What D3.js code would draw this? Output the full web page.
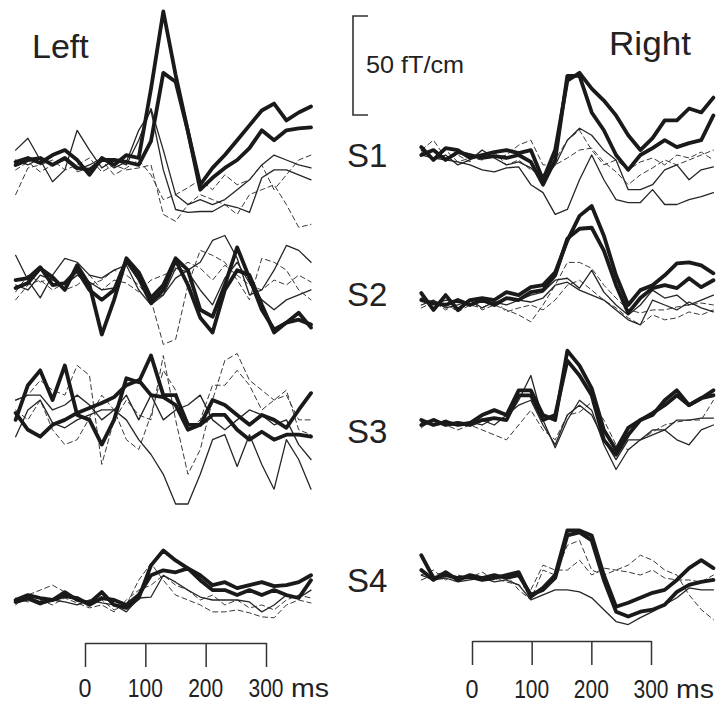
<!DOCTYPE html>
<html>
<head>
<meta charset="utf-8">
<script src="https://cdn.jsdelivr.net/npm/d3@7"></script>
<style>
  body { margin: 0; background: #fff; }
  svg text { font-family: "Liberation Sans", Arial, Helvetica, sans-serif; fill: #222; }
</style>
</head>
<body>
<div id="chart"></div>
<script>
"use strict";

// sample grid (ms) for each column, ~20 ms step
const timesLeft  = d3.range(25).map(i => -115 + i * 20.4);
const timesRight = d3.range(25).map(i => -85 + i * 20.4);

const tickTimes = [0, 100, 200, 300];
const rowNames = ["S1", "S2", "S3", "S4"];

// amplitudes in fT/cm

// Left S1
const L1_thick1 = [-1,1,-1.5,2.5,5,0,-7.5,1,-2.5,2.5,1,36,75,43,14.5,-12.5,-4,2.5,10,17.5,25,28.5,20,24,27];
const L1_thick2 = [-2.5,0,1,-2.5,1,-4,-5,0,0,-1,-2.5,9.5,44,39.5,14.5,-15,-9,-4,0,6,15,10,15,16,16.5];
const L1_thin1  = [5,11,0,-11,-5,15,5,-4,0,-2.5,10,26,5,-17.5,-22.5,-20,-22.5,-20,-15,-10,-2.5,2.5,0,-2.5,-4];
const L1_thin2  = [0,-2.5,1,-2.5,0,-5,-2.5,1,-4,-1,15,25,-5,-25,-26.5,-26,-26,-22.5,-24,-26.5,-9,-5,-5,-7.5,-10];
const L1_dash1  = [-17.5,-4,-2.5,0,-5,-2.5,1,-6,-2.5,-5,-4,-2.5,-27.5,-31,-22.5,-17.5,-20,-22.5,-27.5,-17.5,-15,-12.5,-22.5,-34,-32.5];
const L1_dash2  = [-5,-1,-6,-2.5,1,-6,-4,0,-7.5,-4,0,-7.5,-20,-17.5,-14,-10,-15,-7.5,-12.5,-10,-2.5,-15,-7.5,0,2.5];

// Left S2
const L2_thick1 = [-0.5,2,9.5,5,-1.5,11,1,-24,-6.5,14.5,7.5,-5.5,1,14.5,8.5,-11.5,-15,1,20,4.5,-11.5,-21.5,-18,-13,-20.5];
const L2_thick2 = [3.5,4.5,10,1,2,8.5,-1.5,-6.5,-1.5,13.5,4.5,-8,-1.5,13.5,1,-15.5,-23,-1.5,8.5,6,-9,-23,-18,-16.5,-19];
const L2_thin1  = [16,3.5,-5.5,6,14.5,12.5,6,4.5,8.5,11,-1.5,-9,-4,4.5,8.5,12.5,23.5,26,14.5,-4,-1.5,8.5,21,18.5,12.5];
const L2_thin2  = [1,-1.5,6,3.5,1,6,2.5,-1.5,-0.5,12.5,3.5,-6.5,-4,9.5,7.5,-1.5,-9,4.5,12.5,2,-6.5,-11.5,-6.5,-4,-1.5];
const L2_dash1  = [-6.5,1,3.5,-1.5,2,6,1,3.5,8.5,6,1,-6.5,-29,-26.5,1,18.5,16,12.5,3.5,-6.5,14.5,12.5,8.5,-1.5,-6.5];
const L2_dash2  = [-2.5,6,2.5,4.5,-1.5,1,6,-1.5,3.5,2,-2.5,3.5,6,8.5,12.5,9.5,3.5,11,6,1,-1.5,3.5,1,6,2.5];

// Left S3
const L3_thick1 = [-6.5,11,18.5,3.5,21,-4,-6.5,-19,-6.5,14.5,12.5,26,6,6,-9,-9,3.5,1,-4,-9,-4,-6.5,-10.5,-1.5,7];
const L3_thick2 = [-3,-11.5,-15,-9,-6.5,-3,-0.5,2,5,11,13.5,6,5,1,-11.5,-9,-4,-4,-11.5,-16.5,-12.5,-16.5,-14,-14,-15];
const L3_thin1  = [-15,-1.5,3.5,-8,-10.5,-6.5,-4,-1.5,-1.5,-6.5,-16.5,-24,-34,-49,-49,-34,-16.5,-14,-30,-14,-29,-41.5,-16.5,-26.5,-41.5];
const L3_thin2  = [3.5,6,6,-1.5,1,6,1,-6.5,-1.5,6,-6.5,6,-6.5,-1.5,1,6,-6.5,-11.5,-6.5,-1.5,-4,-9,-6.5,-19,-26.5];
const L3_dash1  = [3.5,6,13.5,8.5,6,21,16,-29,-6.5,3.5,-4,-6.5,26,-6.5,-34,-21.5,3.5,23.5,27,13.5,8.5,3.5,6,-6.5,-6.5];
const L3_dash2  = [-1.5,-6.5,3.5,-11.5,-19,-16.5,-5.5,6,-1.5,-16.5,-21.5,-4,18.5,8.5,-11.5,-6.5,11,11,18.5,11,-1.5,3.5,8.5,-11.5,-14];

// Left S4
const L4_thick1 = [0,2.5,1,0,4,0,-1.5,4,-2.5,-4,1,17.5,25,20,16,12.5,7.5,9,6,7.5,9,7,7.5,9,12.5];
const L4_thick2 = [-1,1,-1.5,0,2,1,-2.5,1,0,-2.5,2.5,12.5,15,14,16,10,5,5,2.5,5,2.5,5,2.5,1,10];
const L4_thin1  = [-1.5,0,-2.5,0,-1,-2.5,0,-1.5,-2.5,-6,1,1.5,12.5,9,5,1.5,0,0,0,-1,-6,-2.5,2.5,1,5];
const L4_dash1  = [-2.5,2.5,5,7.5,4,0,-1.5,0,-5,-2.5,10,18.5,10,2.5,0,-2.5,-6,-6,-5,-6.5,-8.5,-9,-2.5,0,-1.5];
const L4_dash2  = [1,-1,0,-2.5,1,-1.5,-4,-2.5,-6,0,5,7.5,12.5,7.5,5,0,2.5,-2.5,0,-4,-2.5,-5,0,2.5,1];

// Right S1
const R1_thick1 = [5,-1.5,4.5,3.5,-0.5,1,2.5,3.5,2,3.5,-11.5,3.5,38.5,42.5,34.5,28.5,21,11,3.5,9.5,18.5,18.5,24.5,22.5,30];
const R1_thick2 = [1,3.5,-1.5,2.5,1,-0.5,0.5,-0.5,1,-2.5,-14,-1.5,41,41,22.5,13.5,1,-6.5,1,4.5,8.5,5,7,8.5,21];
const R1_thin1  = [3.5,-1.5,1,-4,-1.5,3.5,-0.5,-4,-2.5,-5.5,-11.5,-4,8.5,14.5,11,3.5,-1.5,-16.5,-16.5,-14,-6.5,-4,-11.5,-6.5,-5];
const R1_thin2  = [1,-0.5,-1.5,-2.5,-4,-6.5,-7.5,-5.5,-5,-14,-18,-29,-26.5,-11.5,1,-11.5,-21.5,-23,-23,-16.5,-24,-24,-21.5,-20,-18];
const R1_dash1  = [3.5,8.5,-0.5,1,-2.5,3.5,-0.5,1,6,8.5,-4,-4,-0.5,3.5,4.5,-2.5,-7.5,-14,-9,-5.5,-1.5,-4,-1.5,1,3.5];
const R1_dash2  = [2.5,-1.5,3.5,-2.5,-0.5,-1.5,2.5,-4,-1.5,-6.5,-9,-1.5,8.5,13.5,3.5,-4,-1.5,-6.5,-2.5,-0.5,-4,1,-0.5,2.5,-1.5];

// Right S2
const R2_thick1 = [5,-3.5,4,-3.5,1.5,2.5,1.5,5.5,4,8,9,15.5,31.5,44,49,34,14,-1,6.5,9,14,20,20.5,19,15];
const R2_thick2 = [1.5,0,-1,1.5,-1,1.5,-1,2.5,1.5,5.5,6.5,14,32.5,37.5,38,26.5,9,-5,2.5,7.5,9,7.5,12.5,8,11.5];
const R2_thin1  = [2.5,-1,1.5,0.5,-1,1.5,0,2.5,1.5,4,5.5,11.5,12.5,7.5,16.5,5.5,-1,-6,-1,6.5,2.5,4,-1,1.5,4];
const R2_thin2  = [-1,1.5,-2.5,-1,1.5,-2.5,0.5,-1,1.5,0.5,2.5,9,10.5,6.5,4,1.5,-3.5,-8.5,-11,1.5,-1,-3.5,0.5,-2.5,-4.5];
const R2_dash1  = [-2.5,0.5,-3.5,0,1.5,-3.5,-1,-3.5,-6,-9.5,-1,9,20.5,20.5,17.5,9,2.5,-3.5,-5,-3.5,-3.5,-2,-1,0,-1];
const R2_dash2  = [1.5,-2.5,0,-4.5,-1,-2.5,1.5,-4.5,-2.5,-1,-3.5,1.5,9,11.5,6.5,1.5,-2.5,-7.5,-11,-6,-8.5,-7.5,-4.5,-6,-3.5];

// Right S3
const R3_thick1 = [1.5,-1,0.5,-1,0,4,6.5,4,16.5,16.5,4,1.5,36.5,29,17.5,-3.5,-13.5,-2.5,1.5,4,11.5,16.5,9,12.5,16.5];
const R3_thick2 = [-1,1.5,-1,0,-1,1.5,2.5,1.5,14,14,1.5,4,31.5,24,14,-8.5,-16,-6,1.5,5,9,14,9,12.5,14];
const R3_thin1  = [1.5,-1,1.5,-1,0.5,-1,2.5,1.5,11.5,24,1.5,-12.5,1.5,11.5,6.5,-11,-23.5,-13.5,-8.5,-3.5,-3.5,1.5,1.5,2.5,2.5];
const R3_thin2  = [0,1.5,-1,0.5,-1,1.5,-1,4,9,11.5,-1,-11,4,9,4,-8.5,-18.5,-8.5,-8.5,-6,-3.5,-8.5,-11,-3.5,-1];
const R3_dash1  = [-2.5,2.5,-1,-3.5,-1,-3.5,-6,-8.5,-1,6.5,-3.5,-8.5,4,5.5,10.5,1.5,-11,-13.5,-8.5,-4.5,-1,0.5,1.5,1.5,11.5];

// Right S4
const R4_thick1 = [11.5,0,1.5,0,0.5,-1,0,1.5,3,-9.5,-5,1.5,24,24,21.5,1.5,-14.5,-12.5,-10,-7.5,-6,-1,5,9,5];
const R4_thick2 = [4,-1,3,-1,1.5,0,1.5,0,1.5,-8.5,-6,0,21.5,23,19,-1,-17,-19.5,-17,-16,-13.5,-7,-3.5,-2,-1];
const R4_thin1  = [1.5,-1,0,-2,-1,0,-2,-1,-3.5,-11,-8.5,-6,-6,-7,-10,-16,-22,-23.5,-20,-17,-13.5,-10,-5,-6,-6];
const R4_dash1  = [1.5,4,-1,1.5,0,3,-1,1.5,-6,-11,4,1.5,16.5,19,4,1.5,4,6.5,11.5,9,4,1.5,-8.5,-16,-21];
const R4_dash2  = [-1,1.5,3,-2,1,-1,0,-2,-3.5,-6,6.5,4,4,9,1.5,5,4,3,1.5,4,0,-1,-1,-2,1.5];


// layout

const width = 722;
const height = 703;
const pxPerUnit = 1.98;          // 50 fT/cm = 99 px

const xLeft  = d3.scaleLinear().domain([0, 300]).range([85, 266]);
const xRight = d3.scaleLinear().domain([0, 300]).range([472, 651]);

const panels = [
    {x: xLeft,  t: timesLeft,  base: 160, traces: [[L1_dash1,"dash"],[L1_dash2,"dash"],[L1_thin1,"thin"],[L1_thin2,"thin"],[L1_thick1,"thick"],[L1_thick2,"thick"]]},
    {x: xLeft,  t: timesLeft,  base: 287, traces: [[L2_dash1,"dash"],[L2_dash2,"dash"],[L2_thin1,"thin"],[L2_thin2,"thin"],[L2_thick1,"thick"],[L2_thick2,"thick"]]},
    {x: xLeft,  t: timesLeft,  base: 407, traces: [[L3_dash1,"dash"],[L3_dash2,"dash"],[L3_thin1,"thin"],[L3_thin2,"thin"],[L3_thick1,"thick"],[L3_thick2,"thick"]]},
    {x: xLeft,  t: timesLeft,  base: 600, traces: [[L4_dash1,"dash"],[L4_dash2,"dash"],[L4_thin1,"thin"],[L4_thick1,"thick"],[L4_thick2,"thick"]]},
    {x: xRight, t: timesRight, base: 157, traces: [[R1_dash1,"dash"],[R1_dash2,"dash"],[R1_thin1,"thin"],[R1_thin2,"thin"],[R1_thick1,"thick"],[R1_thick2,"thick"]]},
    {x: xRight, t: timesRight, base: 303, traces: [[R2_dash1,"dash"],[R2_dash2,"dash"],[R2_thin1,"thin"],[R2_thin2,"thin"],[R2_thick1,"thick"],[R2_thick2,"thick"]]},
    {x: xRight, t: timesRight, base: 423, traces: [[R3_dash1,"dash"],[R3_thin1,"thin"],[R3_thin2,"thin"],[R3_thick1,"thick"],[R3_thick2,"thick"]]},
    {x: xRight, t: timesRight, base: 578, traces: [[R4_dash1,"dash"],[R4_dash2,"dash"],[R4_thin1,"thin"],[R4_thick1,"thick"],[R4_thick2,"thick"]]}
];

const styles = {
    thick: {w: 3.8, c: "#1a1a1a", dash: null},
    thin:  {w: 1.3, c: "#262626", dash: null},
    dash:  {w: 1.0, c: "#3a3a3a", dash: "5,3.5"}
};

const svg = d3.select("#chart").append("svg")
    .attr("width", width)
    .attr("height", height);

// traces
panels.forEach(p => {
    const y = d3.scaleLinear().domain([0, 50]).range([p.base, p.base - 50 * pxPerUnit]);
    const line = d3.line()
        .x((d, i) => p.x(p.t[i]))
        .y(d => y(d));

    svg.append("g")
        .attr("fill", "none")
        .attr("stroke-linejoin", "round")
        .attr("stroke-linecap", "round")
    .selectAll("path")
    .data(p.traces)
    .join("path")
        .attr("stroke", d => styles[d[1]].c)
        .attr("stroke-width", d => styles[d[1]].w)
        .attr("stroke-dasharray", d => styles[d[1]].dash)
        .attr("d", d => line(d[0]));
});

// time brackets
function timeAxis(x, yTop, labelY) {
    const g = svg.append("g")
        .attr("transform", `translate(0,${yTop})`)
        .call(d3.axisBottom(x).tickValues(tickTimes).tickSize(24).tickSizeOuter(0).tickFormat(""));
    g.selectAll("path, line").attr("stroke", "#333").attr("stroke-width", 1.5);

    svg.append("g").selectAll("text")
        .data(tickTimes)
        .join("text")
        .attr("x", d => x(d))
        .attr("y", labelY)
        .attr("text-anchor", "middle")
        .attr("font-size", 25)
        .attr("textLength", d => d === 0 ? 13 : 35)
        .attr("lengthAdjust", "spacingAndGlyphs")
        .text(d => d);

    svg.append("text")
        .attr("x", x(300) + 25)
        .attr("y", labelY)
        .attr("font-size", 25)
        .attr("textLength", 38)
        .attr("lengthAdjust", "spacingAndGlyphs")
        .text("ms");
}

timeAxis(xLeft, 643, 697);
timeAxis(xRight, 641, 698);

// 50 fT/cm bar
const yBar = d3.scaleLinear().domain([0, 50]).range([115, 115 - 50 * pxPerUnit]);
svg.append("path")
    .attr("fill", "none")
    .attr("stroke", "#333")
    .attr("stroke-width", 1.6)
    .attr("d", `M368,${yBar(50)}H353V${yBar(0)}H368`);

svg.append("text")
    .attr("x", 366)
    .attr("y", 73)
    .attr("font-size", 24)
    .attr("textLength", 98)
    .attr("lengthAdjust", "spacingAndGlyphs")
    .text("50 fT/cm");

// headings
svg.append("text").attr("x", 32).attr("y", 58).attr("font-size", 34).text("Left");
svg.append("text").attr("x", 609).attr("y", 55).attr("font-size", 33)
    .attr("textLength", 82).attr("lengthAdjust", "spacingAndGlyphs").text("Right");

const rowY = [167, 306, 443, 592];
svg.append("g").selectAll("text")
    .data(rowNames)
    .join("text")
    .attr("x", 347)
    .attr("y", (d, i) => rowY[i])
    .attr("font-size", 33)
    .text(d => d);

</script>
</body>
</html>
